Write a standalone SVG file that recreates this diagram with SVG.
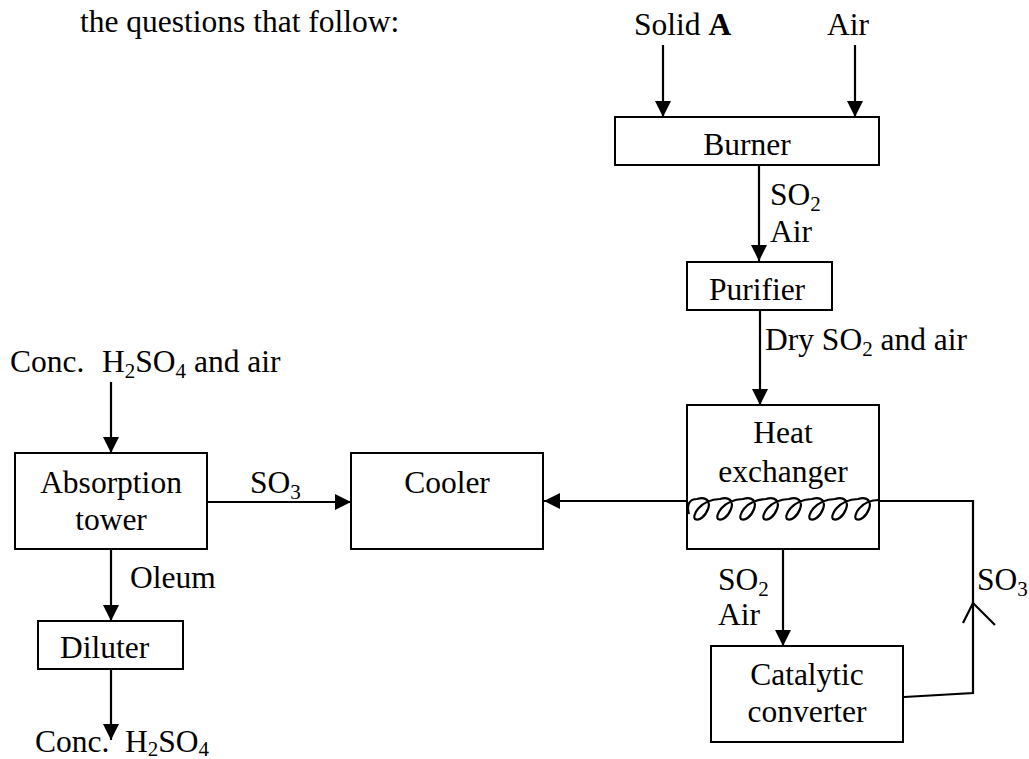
<svg xmlns="http://www.w3.org/2000/svg" width="1029" height="759" viewBox="0 0 1029 759">
<style>
text{font-family:"Liberation Serif","Times New Roman",serif;font-size:31.5px;fill:#000}
.c{text-anchor:middle}
.sub{font-size:21px}
.box{fill:#fff;stroke:#000;stroke-width:2}
.ln{fill:none;stroke:#000;stroke-width:2.2}
.arr{marker-end:url(#ah)}
</style>
<defs>
<marker id="ah" markerUnits="userSpaceOnUse" markerWidth="16" markerHeight="16" viewBox="0 0 16 16" refX="16" refY="8" orient="auto">
<path d="M0,0 L16,8 L0,16 Z" fill="#000"/>
</marker>
</defs>
<rect width="1029" height="759" fill="#fff"/>
<text x="80" y="32">the questions that follow:</text>

<g id="connectors">
<line class="ln arr" x1="663" y1="45" x2="663" y2="117"/>
<line class="ln arr" x1="855" y1="45" x2="855" y2="117"/>
<line class="ln arr" x1="759" y1="165" x2="759" y2="261"/>
<line class="ln arr" x1="760" y1="310" x2="760" y2="405"/>
<line class="ln arr" x1="687" y1="501" x2="544" y2="501"/>
<line class="ln arr" x1="207" y1="502" x2="351" y2="502"/>
<line class="ln arr" x1="111" y1="382" x2="111" y2="453"/>
<line class="ln arr" x1="111" y1="549" x2="111" y2="621"/>
<line class="ln arr" x1="111" y1="669" x2="111" y2="740"/>
<line class="ln arr" x1="783" y1="549" x2="783" y2="646"/>
<polyline class="ln" points="879,501 973,501 973,693 904,697"/>
<polyline class="ln" points="963,623 973,603 995,625"/>
<text x="770" y="205">SO<tspan class="sub" dy="6">2</tspan></text>
<text x="770" y="242">Air</text>
<text x="765" y="350">Dry SO<tspan class="sub" dy="6">2</tspan><tspan dy="-6"> and air</tspan></text>
<text x="250" y="493">SO<tspan class="sub" dy="6">3</tspan></text>
<text x="130" y="588">Oleum</text>
<text x="718" y="590">SO<tspan class="sub" dy="6">2</tspan></text>
<text x="718" y="625">Air</text>
<text x="977" y="590">SO<tspan class="sub" dy="6">3</tspan></text>
</g>

<g id="solidA"><text x="634" y="35">Solid <tspan font-weight="bold">A</tspan></text></g>
<g id="air"><text x="827" y="35">Air</text></g>
<g id="burner"><rect class="box" x="615" y="117" width="264" height="48"/><text class="c" x="747" y="155">Burner</text></g>
<g id="purifier"><rect class="box" x="687" y="262" width="145" height="48"/><text class="c" x="757" y="300">Purifier</text></g>
<g id="heat-exchanger"><rect class="box" x="687" y="405" width="192" height="144"/>
<text class="c" x="783" y="443">Heat</text><text class="c" x="783" y="482">exchanger</text>
<path class="ln" stroke-width="2" d="M689,514 C686,504 690,499 697,499
C706,496 711,501 708,509 C705,517 699,521 695,519 C692,516 699,500 720,499
C729,496 734,501 731,509 C728,517 722,521 718,519 C715,516 722,500 743,499
C752,496 757,501 754,509 C751,517 745,521 741,519 C738,516 745,500 766,499
C775,496 780,501 777,509 C774,517 768,521 764,519 C761,516 768,500 789,499
C798,496 803,501 800,509 C797,517 791,521 787,519 C784,516 791,500 812,499
C821,496 826,501 823,509 C820,517 814,521 810,519 C807,516 814,500 835,499
C844,496 849,501 846,509 C843,517 837,521 833,519 C830,516 837,500 858,499
C867,496 872,501 869,509 C866,517 860,521 856,519 C853,516 860,500 879,500"/>
</g>
<g id="cooler"><rect class="box" x="351" y="453" width="192" height="96"/><text class="c" x="447" y="493">Cooler</text></g>
<g id="catalytic-converter"><rect class="box" x="711" y="646" width="192" height="96"/>
<text class="c" x="807" y="685">Catalytic</text><text class="c" x="807" y="722">converter</text></g>
<g id="absorption-tower"><rect class="box" x="15" y="453" width="192" height="96"/>
<text class="c" x="111" y="493">Absorption</text><text class="c" x="111" y="530">tower</text></g>
<g id="conc-in"><text x="10" y="372">Conc.</text><text x="102" y="372">H<tspan class="sub" dy="6">2</tspan><tspan dy="-6">SO</tspan><tspan class="sub" dy="6">4</tspan><tspan dy="-6"> and air</tspan></text></g>
<g id="diluter"><rect class="box" x="38" y="621" width="145" height="48"/><text x="60" y="658">Diluter</text></g>
<g id="conc-out"><text x="35" y="752">Conc.</text><text x="125" y="752">H<tspan class="sub" dy="4">2</tspan><tspan dy="-4">SO</tspan><tspan class="sub" dy="4">4</tspan></text></g>
</svg>
